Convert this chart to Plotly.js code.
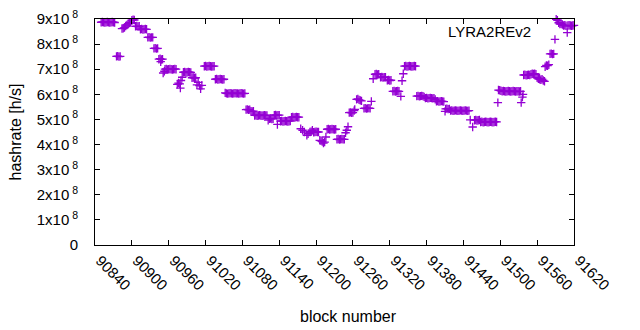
<!DOCTYPE html>
<html>
<head>
<meta charset="utf-8">
<script src="https://cdn.plot.ly/plotly-3.0.1.min.js"></script>
<style>html,body{margin:0;padding:0;background:#fff;}#chart{width:640px;height:330px;}</style>
</head>
<body>
<div id="chart"></div>
<script>
// block numbers
const blocks = [
90850,90852,90854,90856,90858,90860,90862,90864,90866,90868,90870,90872,
90875,90877,90879,90881,
90884,90886,90888,90890,90892,90894,
90896,90898,90900,90902,90904,
90906,90908,90910,90912,
90914,90916,90918,90920,90922,90924,
90926,90928,90930,90932,90934,
90936,90938,90940,90942,
90944,90946,90947,90948,90950,
90951,90953,
90954,90956,90958,90960,90962,90964,90966,90968,90970,90972,
90974,90976,90978,90979,90980,90982,
90984,90986,90988,90990,90992,90994,90996,
90998,91000,91002,91004,
91006,91008,91010,91012,91014,
91018,91020,91022,91024,91026,91028,91030,91032,91034,
91036,91038,91040,91042,91044,91046,91048,91050,
91052,91054,91056,91058,91060,91062,91064,91066,91068,91070,91072,91074,91076,91078,91080,91082,91084,
91086,91088,91090,91092,91094,91096,91098,
91100,91102,91104,91106,91108,91110,91112,91114,91116,91118,91120,
91122,91124,91126,91128,91130,
91132,91134,91136,91137,91138,91140,
91142,91144,91146,91148,91150,91152,91154,91156,91158,
91160,91162,91164,91166,91168,91170,91172,
91175,91178,91181,91185,91187,
91190,91192,91194,91196,91198,91200,91202,91204,
91206,91208,91210,91212,91214,91216,
91218,91220,91222,91224,91226,91228,91230,91232,
91234,91236,91238,91240,91242,91244,91246,
91248,91250,91252,
91254,91256,91258,91260,91262,91263,
91266,91268,91270,91272,91274,
91278,91280,91282,91284,91286,91288,
91290,
91293,91296,91298,91300,91302,91305,91307,91309,91311,91313,91316,91318,91320,91322,
91325,91327,91329,91331,91333,91335,91338,
91340,91342,
91344,91346,91348,91350,91352,91354,91356,91358,91360,91362,
91364,91366,91368,91370,91372,91374,91376,
91378,91380,91382,91384,91386,91388,91390,91392,91394,
91396,91398,91400,91402,91404,91406,91408,
91410,91411,91413,91415,91417,
91419,91421,91423,91425,91427,91429,91431,91433,91435,91437,91439,91441,91443,91445,91447,91449,
91451,91455,
91458,91460,91462,91464,91466,
91468,91470,91472,91474,91476,91478,91480,91482,91484,91486,91488,91490,91492,91494,
91496,
91497,91499,91501,91503,91505,91507,91509,91511,91513,91515,91517,91519,91521,91523,91525,91527,91529,91531,91533,
91534,91536,91537,
91538,91540,91542,91544,91546,91548,91550,91552,91554,91556,91558,
91560,91562,91564,91566,91568,91570,91572,
91573,91575,91577,91579,
91581,91583,91585,91587,
91589,
91591,91593,91595,91597,91599,91601,
91603,91605,91607,91609,91610,91612,91614,91616,91618,91620
];
// hashrate in units of 10^8 h/s
const hashrate = [
8.87,8.88,8.87,8.86,8.87,8.88,8.87,8.86,8.87,8.88,8.87,8.86,
7.51,7.52,7.50,7.51,
8.62,8.63,8.66,8.72,8.76,8.80,
8.84,8.86,8.95,8.97,8.96,
8.71,8.72,8.70,8.71,
8.59,8.60,8.58,8.59,8.60,8.59,
8.27,8.28,8.26,8.27,8.27,
7.83,7.84,7.82,7.83,
7.40,7.42,7.30,7.39,7.40,
6.85,6.92,
7.00,7.01,6.99,7.00,7.01,7.00,6.99,7.00,7.01,7.00,
6.40,6.45,6.42,6.25,6.55,6.68,
6.88,6.89,6.87,6.88,6.89,6.88,6.87,
6.66,6.67,6.65,6.66,
6.38,6.48,6.35,6.22,6.36,
7.12,7.13,7.11,7.12,7.13,7.12,7.11,7.12,7.12,
6.60,6.61,6.59,6.60,6.61,6.60,6.59,6.60,
6.06,6.04,6.03,6.04,6.05,6.04,6.03,6.04,6.05,6.04,6.04,6.03,6.04,6.05,6.04,6.03,6.04,
5.39,5.40,5.38,5.39,5.33,5.32,5.33,
5.16,5.17,5.15,5.16,5.17,5.16,5.15,5.16,5.17,5.16,5.16,
4.97,5.03,5.04,5.02,5.03,
5.17,5.18,5.16,4.80,5.17,5.17,
4.93,4.94,4.92,4.93,4.94,4.93,4.92,4.93,4.94,
5.09,5.10,5.08,5.09,5.10,5.09,5.09,
4.63,4.57,4.50,4.37,4.43,
4.50,4.51,4.57,4.49,4.50,4.51,4.50,4.50,
4.17,4.15,4.12,4.06,4.10,4.30,
4.61,4.62,4.60,4.61,4.62,4.61,4.60,4.61,
4.21,4.22,4.20,4.21,4.22,4.21,4.21,
4.47,4.57,4.71,
5.27,5.28,5.26,5.27,5.35,5.40,
5.80,5.82,5.78,5.76,5.74,
5.44,5.45,5.43,5.44,5.45,5.44,
5.72,
6.62,6.80,6.81,6.79,6.80,6.68,6.69,6.67,6.68,6.68,6.56,6.57,6.55,6.56,
6.12,6.13,6.11,6.12,6.13,6.12,5.92,
6.54,6.82,
7.12,7.13,7.11,7.12,7.13,7.12,7.11,7.12,7.13,7.12,
5.93,5.94,5.92,5.93,5.94,5.93,5.90,
5.85,5.86,5.84,5.85,5.86,5.85,5.84,5.85,5.80,
5.72,5.73,5.71,5.72,5.73,5.72,5.71,
5.32,5.42,5.43,5.41,5.42,
5.35,5.36,5.34,5.35,5.36,5.35,5.34,5.35,5.36,5.35,5.34,5.35,5.36,5.35,5.34,5.35,
4.98,4.70,
4.97,4.98,4.96,4.97,4.98,
4.90,4.91,4.89,4.90,4.91,4.90,4.89,4.90,4.91,4.90,4.89,4.90,4.91,4.90,
5.67,
6.17,6.16,6.14,6.12,6.13,6.12,6.11,6.12,6.13,6.12,6.11,6.12,6.13,6.12,6.11,6.12,6.12,6.11,6.12,
5.67,5.89,6.00,
6.77,6.78,6.76,6.77,6.78,6.77,6.80,6.82,6.81,6.82,6.80,
6.66,6.62,6.60,6.58,6.60,6.55,6.52,
7.10,7.15,7.14,7.18,
7.61,7.62,7.60,7.61,
8.19,
8.99,8.95,8.85,8.80,8.81,8.78,
8.74,8.75,8.73,8.46,8.74,8.75,8.74,8.73,8.74,8.75
];
const seriesName = "LYRA2REv2";
const xTitle = "block number";
const yTitle = "hashrate [h/s]";
const xTicks = [90840,90900,90960,91020,91080,91140,91200,91260,91320,91380,91440,91500,91560,91620];
const yTickVals = [0,1,2,3,4,5,6,7,8,9];
const yTickText = yTickVals.map(v => v === 0 ? "0" : v + "x10<sup>\u00a08</sup>");

const purple = "rgb(148,0,211)";
const font = "Liberation Sans, Arial, sans-serif";

const trace = {
  x: blocks, y: hashrate, type: "scatter", mode: "markers", name: seriesName,
  cliponaxis: false,
  marker: {symbol: "cross-thin", size: 6, color: purple, line: {color: purple, width: 1.3}}
};

const L = 95, R = 574, T = 19, B = 245;
const layout = {
  width: 640, height: 330,
  margin: {l: L, r: 640 - R, t: T, b: 330 - B},
  paper_bgcolor: "#fff", plot_bgcolor: "#fff",
  showlegend: false,
  font: {family: font, size: 15, color: "#000"},
  xaxis: {
    range: [90840, 91620], tickvals: xTicks, ticktext: xTicks.map(String),
    tickangle: 45, ticks: "inside", ticklen: 5, tickcolor: "#000",
    showline: true, linecolor: "#000", linewidth: 1, mirror: "ticks",
    showgrid: false, zeroline: false,
    ticklabelshift: 5, ticklabelstandoff: 0,
    tickfont: {family: font, size: 15}
  },
  yaxis: {
    range: [0, 9], tickvals: yTickVals, ticktext: yTickText,
    ticks: "inside", ticklen: 5, tickcolor: "#000",
    showline: true, linecolor: "#000", linewidth: 1, mirror: "ticks",
    showgrid: false, zeroline: false,
    ticklabelstandoff: 13,
    tickfont: {family: font, size: 15},
    title: {text: yTitle, font: {family: font, size: 16}, standoff: 11}
  },
  annotations: [{
    xref: "paper", yref: "paper", x: (533 - L) / (R - L), y: (B - 32) / (B - T),
    xanchor: "right", yanchor: "middle", showarrow: false,
    text: seriesName, font: {family: font, size: 15, color: "#000"}
  }, {
    xref: "paper", yref: "paper", x: (348 - L) / (R - L), y: (B - 316) / (B - T),
    xanchor: "center", yanchor: "middle", showarrow: false,
    text: xTitle, font: {family: font, size: 16, color: "#000"}
  }]
};

Plotly.newPlot("chart", [trace], layout, {displayModeBar: false, staticPlot: true});
</script>
</body>
</html>
